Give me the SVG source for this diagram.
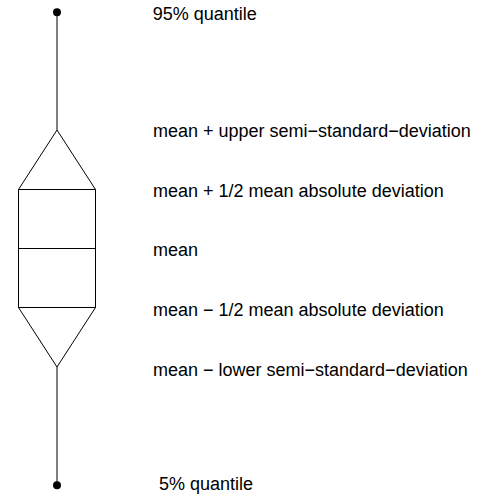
<svg xmlns="http://www.w3.org/2000/svg" width="477" height="498" viewBox="0 0 477 498">
<style>
.ln{stroke:#000;stroke-width:1;fill:none}
.t{font-family:"Liberation Sans",Arial,sans-serif;font-size:18px;fill:#000}
</style>
<rect width="477" height="498" fill="#fff"/>
<g id="connectors">
<line class="ln" x1="57" y1="12" x2="57" y2="130"/>
<line class="ln" x1="57" y1="367" x2="57" y2="485"/>
</g>
<g id="top-dot"><circle cx="57" cy="12.3" r="4" fill="#000"/></g>
<g id="bottom-dot"><circle cx="57" cy="485.3" r="4" fill="#000"/></g>
<g id="box">
<polygon class="ln" points="57,130 95.5,189.5 95.5,307.5 57,367 18.5,307.5 18.5,189.5"/>
<line class="ln" x1="18.5" y1="189.5" x2="95.5" y2="189.5"/>
<line class="ln" x1="18.5" y1="248.5" x2="95.5" y2="248.5"/>
<line class="ln" x1="18.5" y1="307.5" x2="95.5" y2="307.5"/>
</g>
<g id="labels">
<text class="t" x="152.7" y="20">95% quantile</text>
<text class="t" x="153" y="137">mean + upper semi−standard−deviation</text>
<text class="t" x="153" y="196.5">mean + 1/2 mean absolute deviation</text>
<text class="t" x="153" y="256">mean</text>
<text class="t" x="153" y="316">mean − 1/2 mean absolute deviation</text>
<text class="t" x="153" y="375.5">mean − lower semi−standard−deviation</text>
<text class="t" x="159" y="490">5% quantile</text>
</g>
</svg>
